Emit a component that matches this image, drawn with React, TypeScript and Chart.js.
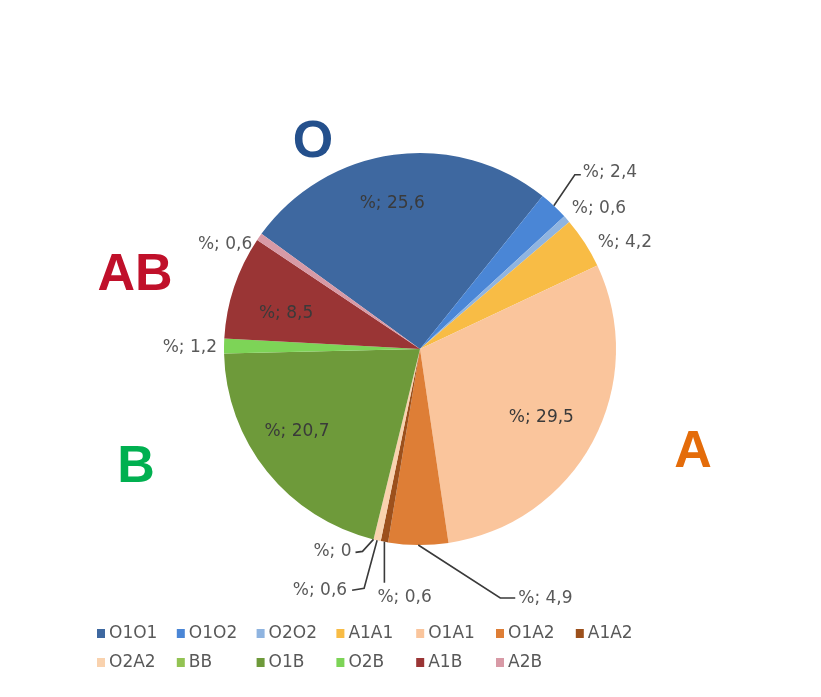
import React, { useEffect, useRef } from "react";
import { Chart, registerables } from "chart.js";

Chart.register(...registerables);

const categories = ["O1O1", "O1O2", "O2O2", "A1A1", "O1A1", "O1A2", "A1A2", "O2A2", "BB", "O1B", "O2B", "A1B", "A2B"];
const values = [25.6, 2.4, 0.6, 4.2, 29.5, 4.9, 0.6, 0.6, 0, 20.7, 1.2, 8.5, 0.6];
const colors = ["#3E68A0", "#4A86D6", "#8FB4E0", "#F8BC45", "#FAC59C", "#DE7E36", "#9C501C", "#F9D2AE", "#93C353", "#6E9A3A", "#7DD457", "#9A3535", "#D89AA6"];

const groupLabels = ["O", "AB", "B", "A"];
const groupColors = ["#24508C", "#C0102A", "#00B050", "#E46C0A"];

// label placement: "in" = inside slice (with small nudge); otherwise offsets from slice edge point
type LabelCfg = { mode: "in" | "out"; tx?: number; ty?: number; align?: CanvasTextAlign; line?: number[][] };
const labelCfg: LabelCfg[] = [
  { mode: "in", tx: -9, ty: -6 },
  { mode: "out", tx: 29, ty: -33, align: "left", line: [[21, -31], [27, -31]] },
  { mode: "out", tx: 5, ty: -11, align: "left" },
  { mode: "out", tx: 13, ty: 0, align: "left" },
  { mode: "in", tx: -3, ty: 2 },
  { mode: "out", tx: 100, ty: 54, align: "left", line: [[82, 53], [97, 53]] },
  { mode: "out", tx: -7, ty: 56, align: "left", line: [[0, 41]] },
  { mode: "out", tx: -30, ty: 50, align: "right", line: [[-13, 48], [-25, 50]] },
  { mode: "out", tx: -22, ty: 12, align: "right", line: [[-11, 12], [-18, 13]] },
  { mode: "in", tx: -13, ty: -6 },
  { mode: "out", tx: -7, ty: 2, align: "right" },
  { mode: "in", tx: 0, ty: 9 },
  { mode: "out", tx: -7, ty: 8, align: "right" },
];

const FONT = '"DejaVu Sans", sans-serif';

const fmt = (v: number) => "%; " + String(v).replace(".", ",");

const labelPlugin = {
  id: "sliceLabels",
  afterDatasetsDraw(chart: any) {
    const ctx = chart.ctx as CanvasRenderingContext2D;
    const meta = chart.getDatasetMeta(0);
    ctx.save();
    ctx.font = `17px ${FONT}`;
    ctx.textBaseline = "middle";
    meta.data.forEach((el: any, i: number) => {
      const { x, y, startAngle, endAngle, outerRadius } = el.getProps(["x", "y", "startAngle", "endAngle", "outerRadius"], true);
      const mid = (startAngle + endAngle) / 2;
      const cfg = labelCfg[i];
      const text = fmt(values[i]);
      if (cfg.mode === "in") {
        const r = outerRadius * 0.72;
        ctx.fillStyle = "#3a3a3a";
        ctx.textAlign = "center";
        ctx.fillText(text, x + Math.cos(mid) * r + (cfg.tx || 0), y + Math.sin(mid) * r + (cfg.ty || 0));
      } else {
        const ex = x + Math.cos(mid) * outerRadius;
        const ey = y + Math.sin(mid) * outerRadius;
        if (cfg.line) {
          ctx.strokeStyle = "#3a3a3a";
          ctx.lineWidth = 1.6;
          ctx.beginPath();
          ctx.moveTo(ex, ey);
          cfg.line.forEach((p) => ctx.lineTo(ex + p[0], ey + p[1]));
          ctx.stroke();
        }
        ctx.fillStyle = "#595959";
        ctx.textAlign = cfg.align || "left";
        ctx.fillText(text, ex + (cfg.tx || 0), ey + (cfg.ty || 0));
      }
    });

    // group letters
    ctx.font = `bold 52px "Liberation Sans", Arial, sans-serif`;
    ctx.textAlign = "center";
    ctx.textBaseline = "alphabetic";
    const cx = meta.data[0].x;
    const cy = meta.data[0].y;
    const groupPos = [[-107, -192], [-285, -59], [-284, 133], [273, 118]];
    groupLabels.forEach((g, i) => {
      ctx.fillStyle = groupColors[i];
      ctx.fillText(g, cx + groupPos[i][0], cy + groupPos[i][1]);
    });

    // legend (two rows, column aligned)
    ctx.font = `17px ${FONT}`;
    ctx.textAlign = "left";
    ctx.textBaseline = "middle";
    categories.forEach((c, i) => {
      const row = i < 7 ? 0 : 1;
      const col = i < 7 ? i : i - 7;
      const lx = 89 + col * 79.8;
      const ly = 625 + row * 29;
      ctx.fillStyle = colors[i];
      ctx.fillRect(lx, ly - 4, 8, 9);
      ctx.fillStyle = "#595959";
      ctx.fillText(c, lx + 12, ly + 1);
    });
    ctx.restore();
  },
};

export default function App() {
  const ref = useRef<HTMLCanvasElement>(null);
  useEffect(() => {
    if (!ref.current) return;
    const chart = new Chart(ref.current, {
      type: "pie",
      data: {
        labels: categories,
        datasets: [
          {
            data: values,
            backgroundColor: colors,
            borderWidth: 0,
          },
        ],
      },
      options: {
        responsive: false,
        animation: false,
        rotation: -54,
        layout: { padding: { top: 145, bottom: 144, left: 216, right: 197 } },
        plugins: {
          legend: { display: false },
          tooltip: { enabled: false },
          title: { display: false },
        },
      },
      plugins: [labelPlugin],
    });
    return () => chart.destroy();
  }, []);
  return (
    <div style={{ width: 805, height: 681, background: "#fff" }}>
      <canvas ref={ref} width={805} height={681} style={{ width: 805, height: 681, display: "block" }} />
    </div>
  );
}
